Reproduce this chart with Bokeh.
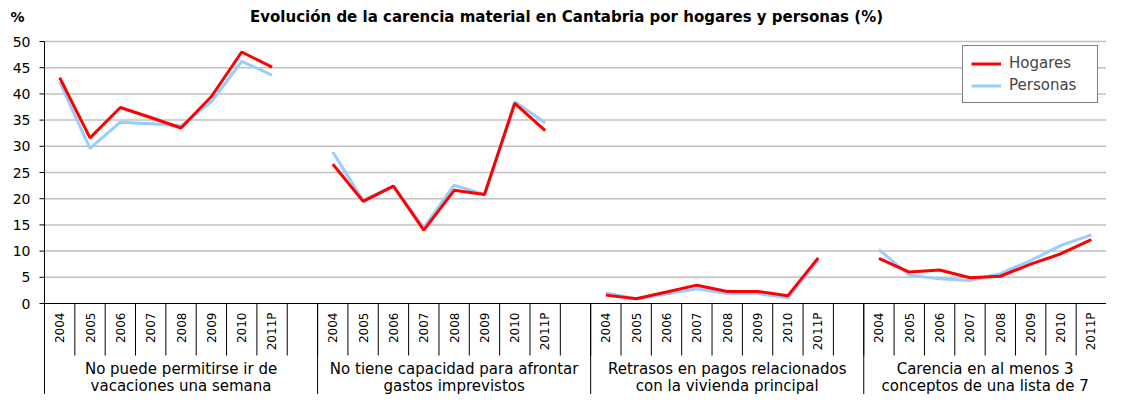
import math
from bokeh.plotting import figure
from bokeh.models import Range1d, ColumnDataSource, Legend, LegendItem
from bokeh.embed import file_html
from bokeh.resources import INLINE
from bokeh.core.properties import value

years = ["2004", "2005", "2006", "2007", "2008", "2009", "2010", "2011P"]
group_labels = [
    ["No puede permitirse ir de", "vacaciones una semana"],
    ["No tiene capacidad para afrontar", "gastos imprevistos"],
    ["Retrasos en pagos relacionados", "con la vivienda principal"],
    ["Carencia en al menos 3", "conceptos de una lista de 7"],
]
hogares_vacaciones = [43.1, 31.6, 37.4, 35.5, 33.5, 39.5, 48.0, 45.1]
hogares_imprevistos = [26.6, 19.5, 22.4, 14.0, 21.6, 20.8, 38.2, 33.0]
hogares_retrasos = [1.6, 0.9, 2.2, 3.5, 2.3, 2.3, 1.5, 8.7]
hogares_carencia = [8.6, 6.0, 6.4, 4.9, 5.2, 7.5, 9.5, 12.2]
personas_vacaciones = [42.3, 29.6, 34.6, 34.3, 33.9, 38.5, 46.2, 43.6]
personas_imprevistos = [28.9, 19.7, 22.4, 14.5, 22.6, 20.8, 38.5, 34.5]
personas_retrasos = [2.0, 0.9, 1.8, 2.8, 1.9, 1.9, 1.1, 8.2]
personas_carencia = [10.3, 5.4, 4.7, 4.4, 5.7, 8.2, 11.1, 13.1]
y_ticks = [0, 5, 10, 15, 20, 25, 30, 35, 40, 45, 50]
title_text = "Evolución de la carencia material en Cantabria por hogares y personas (%)"
unit_text = "%"

hogares = [hogares_vacaciones, hogares_imprevistos, hogares_retrasos, hogares_carencia]
personas = [personas_vacaciones, personas_imprevistos, personas_retrasos, personas_carencia]

FONT = "DejaVu Sans"
NG = len(group_labels)
NY = len(years)
SPG = NY + 1
N_SLOTS = NG * SPG - 1

W, H = 1106, 394
AXIS_X = 44           # pixel position of y axis
TOP50 = 41            # pixel y of value 50
ZERO = 303            # pixel y of value 0
S = (W - AXIS_X) / N_SLOTS     # pixels per slot
PX = 50.0 / (ZERO - TOP50)     # data units per vertical pixel
y_min = -(H - ZERO) * PX
y_max = 50 + TOP50 * PX
x_min = -AXIS_X / S

xs, yh, yp = [], [], []
year_x, year_t = [], []
for g in range(NG):
    for k in range(NY):
        x = g * SPG + k + 0.5
        xs.append(x)
        yh.append(hogares[g][k])
        yp.append(personas[g][k])
        year_x.append(x)
        year_t.append(years[k])
    if g < NG - 1:
        xs.append(g * SPG + NY + 0.5)
        yh.append(float("nan"))
        yp.append(float("nan"))

p = figure(width=W, height=H, output_backend="svg", toolbar_location=None,
           x_range=Range1d(x_min, N_SLOTS), y_range=Range1d(y_min, y_max),
           min_border=0)
p.outline_line_color = None
p.axis.visible = False
p.grid.visible = False
p.background_fill_color = "white"
p.border_fill_color = "white"

# grid lines
grid_y = y_ticks[1:]
p.segment(x0=[0] * len(grid_y), y0=grid_y, x1=[N_SLOTS] * len(grid_y), y1=grid_y,
          line_color="#C0C0C0", line_width=1.5)
# y axis: line, ticks, labels
p.segment(x0=[0], y0=[y_min], x1=[0], y1=[50], line_color="black", line_width=1)
p.segment(x0=[-5 / S] * len(y_ticks), y0=y_ticks, x1=[0] * len(y_ticks), y1=y_ticks,
          line_color="black", line_width=1)
p.text(x=[-14 / S] * len(y_ticks), y=y_ticks, text=[str(t) for t in y_ticks],
       text_align="right", text_baseline="middle", text_font=value(FONT),
       text_font_size="14px", text_color="black")

# x axis baseline and separators
p.segment(x0=[0], y0=[0], x1=[N_SLOTS], y1=[0], line_color="black", line_width=1)
short_x = list(range(1, N_SLOTS))
p.segment(x0=short_x, y0=[0] * len(short_x), x1=short_x, y1=[-52 * PX] * len(short_x),
          line_color="black", line_width=1)
long_x = [g * SPG for g in range(1, NG)]
p.segment(x0=long_x, y0=[0] * len(long_x), x1=long_x, y1=[y_min] * len(long_x),
          line_color="black", line_width=1)

# year labels (rotated)
p.text(x=year_x, y=[-9 * PX] * len(year_x), text=year_t, angle=math.pi / 2,
       text_align="right", text_baseline="middle", text_font=value(FONT),
       text_font_size="12px", text_color="black")

# group labels
gx = [g * SPG + (SPG if g < NG - 1 else NY) / 2.0 for g in range(NG)]
p.text(x=gx, y=[-65 * PX] * NG, text=[gl[0] for gl in group_labels], text_align="center",
       text_baseline="middle", text_font=value(FONT), text_font_size="15px", text_color="black")
p.text(x=gx, y=[-82 * PX] * NG, text=[gl[1] for gl in group_labels], text_align="center",
       text_baseline="middle", text_font=value(FONT), text_font_size="15px", text_color="black")

# title and unit
p.text(x=[(566 - AXIS_X) / S], y=[50 + 25 * PX], text=[title_text], text_align="center",
       text_baseline="middle", text_font=value(FONT), text_font_size="15px",
       text_font_style="bold", text_color="black")
p.text(x=[(17 - AXIS_X) / S], y=[50 + 25 * PX], text=[unit_text], text_align="center",
       text_baseline="middle", text_font=value(FONT), text_font_size="14px",
       text_font_style="bold", text_color="black")

# series
src = ColumnDataSource(dict(x=xs, h=yh, pp=yp))
rp = p.line("x", "pp", source=src, line_color="#99CCFF", line_width=3)
rh = p.line("x", "h", source=src, line_color="#FF0000", line_width=3)
p.renderers.remove(rp)
p.renderers.insert(p.renderers.index(rh), rp)

legend = Legend(items=[LegendItem(label="Hogares", renderers=[rh]),
                       LegendItem(label="Personas", renderers=[rp])],
                location=(W - 2 - 142, H - 51 - 52))
legend.label_text_font = FONT
legend.label_text_font_size = "15px"
legend.glyph_width = 30
legend.glyph_height = 15
legend.label_height = 15
legend.spacing = 4
legend.padding = 8
legend.label_standoff = 8
legend.label_width = 80
legend.border_line_color = "black"
legend.border_line_width = 1
legend.margin = 0
p.add_layout(legend)

open("out.html", "w").write(file_html(p, INLINE))
